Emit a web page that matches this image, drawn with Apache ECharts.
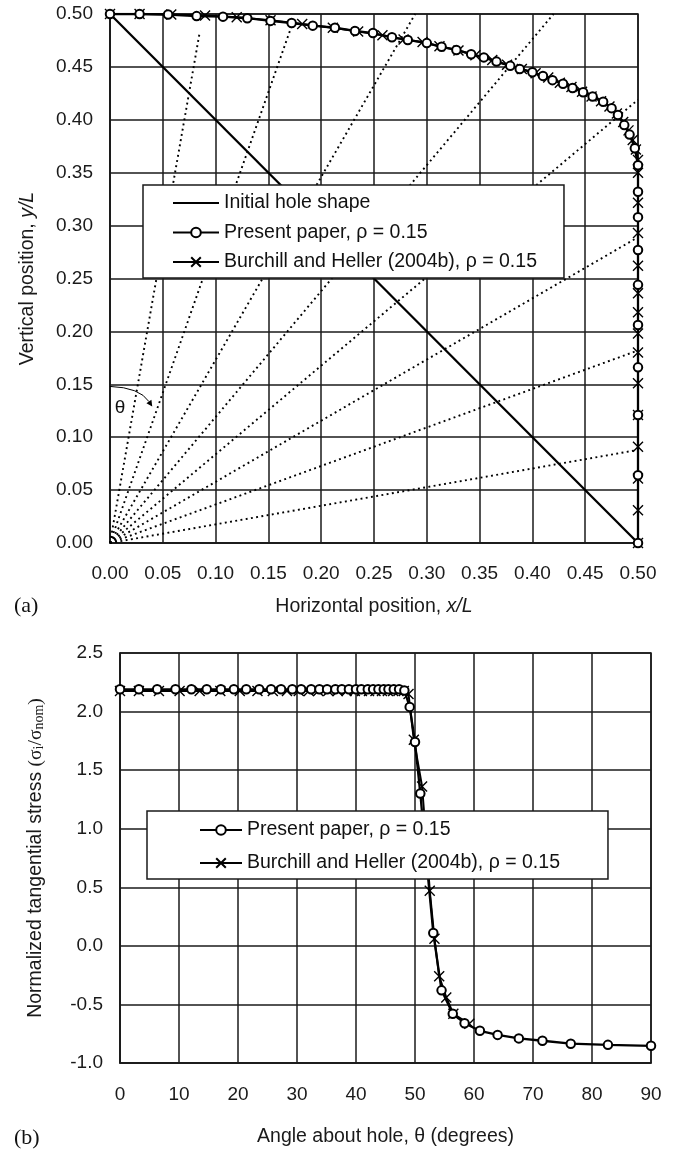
<!DOCTYPE html>
<html><head><meta charset="utf-8">
<script src="https://cdn.jsdelivr.net/npm/echarts@6/dist/echarts.min.js"></script>
<style>html,body{margin:0;padding:0;background:#fff}#c{width:679px;height:1151px}</style>
</head><body><div id="c"></div>
<script>
// ---------- (a) hole shape ----------
const initialX = [0, 0.5];
const initialY = [0.5, 0];
const presentX = [0,0.028,0.055,0.082,0.107,0.13,0.152,0.172,0.192,0.213,0.232,0.249,0.267,0.282,0.300,0.314,0.328,0.342,0.354,0.366,0.379,0.388,0.400,0.410,0.419,0.429,0.438,0.448,0.457,0.467,0.475,0.481,0.487,0.492,0.497,0.5,0.5,0.5,0.5,0.5,0.5,0.5,0.5,0.5,0.5];
const presentY = [0.5,0.5,0.4995,0.498,0.4975,0.496,0.4935,0.4915,0.489,0.487,0.484,0.482,0.478,0.4755,0.4725,0.469,0.466,0.462,0.459,0.455,0.451,0.448,0.445,0.4415,0.4375,0.434,0.430,0.426,0.422,0.417,0.411,0.4045,0.395,0.386,0.373,0.357,0.332,0.308,0.277,0.244,0.206,0.166,0.121,0.064,0];
const burchillX = [0,0.028,0.058,0.09,0.12,0.152,0.182,0.211,0.235,0.258,0.278,0.296,0.312,0.33,0.346,0.362,0.376,0.39,0.403,0.415,0.426,0.437,0.447,0.456,0.465,0.473,0.48,0.486,0.491,0.495,0.498,0.5,0.5,0.5,0.5,0.5,0.5,0.5,0.5,0.5,0.5,0.5,0.5,0.5,0.5,0.5];
const burchillY = [0.5,0.5,0.4995,0.4985,0.497,0.494,0.4905,0.487,0.4835,0.48,0.476,0.4735,0.4695,0.4655,0.461,0.4565,0.452,0.448,0.444,0.44,0.435,0.431,0.4265,0.422,0.4175,0.4125,0.406,0.398,0.39,0.381,0.372,0.362,0.35,0.3215,0.293,0.262,0.236,0.218,0.198,0.18,0.151,0.121,0.091,0.061,0.031,0];
// dotted radial lines (from origin to these end points)
const rayEndX = [0.085,0.173,0.289,0.42,0.5,0.5,0.5,0.5];
const rayEndY = [0.483,0.4915,0.5,0.5,0.419,0.289,0.182,0.088];
// theta annotation (data coords)
const noteStart = [0, 0.148];
const noteCtrl = [0.028, 0.147];
const noteEnd = [0.04, 0.129];
const noteText = [0.0095, 0.128];

// ---------- (b) tangential stress ----------
const thetaPresent = [0,3.2,6.3,9.4,12.1,14.7,17.1,19.3,21.4,23.6,25.6,27.3,29.2,30.7,32.4,33.8,35.1,36.5,37.6,38.8,40.0,40.9,42.0,42.9,43.8,44.7,45.5,46.4,47.3,48.2,49.1,50.0,50.9,51.9,53.1,54.5,56.4,58.4,61.0,64.0,67.6,71.6,76.4,82.7,90];
const stressPresent = [2.19,2.19,2.19,2.19,2.19,2.19,2.19,2.19,2.19,2.19,2.19,2.19,2.19,2.19,2.19,2.19,2.19,2.19,2.19,2.19,2.19,2.19,2.19,2.19,2.19,2.19,2.19,2.19,2.19,2.18,2.04,1.74,1.30,0.75,0.11,-0.38,-0.58,-0.66,-0.725,-0.76,-0.79,-0.81,-0.835,-0.845,-0.853];
const thetaBurchill = [0,3.2,6.6,10.1,13.5,17.0,20.3,23.3,25.9,28.3,30.3,32.0,33.6,35.3,36.9,38.4,39.8,41.0,42.2,43.3,44.4,45.4,46.3,47.2,48.1,48.9,49.8,51.2,51.9,52.5,53.3,54.1,55.3,56.5,59.2];
const stressBurchill = [2.175,2.175,2.175,2.175,2.175,2.175,2.175,2.175,2.175,2.175,2.175,2.175,2.175,2.175,2.175,2.175,2.175,2.175,2.175,2.175,2.175,2.175,2.175,2.175,2.175,2.15,1.76,1.36,0.9,0.47,0.06,-0.26,-0.44,-0.58,-0.665];

const NAME_INIT = 'Initial hole shape';
const NAME_PRES = 'Present paper, ρ = 0.15';
const NAME_BURC = 'Burchill and Heller (2004b), ρ = 0.15';

const FONT = '"Liberation Sans", Arial, sans-serif';
const SERIF = '"Liberation Serif", "Times New Roman", serif';
const INK = '#1a1a1a';
const XSYM = 'path://M0,0L10,10M0,10L10,0';
const FS = 19.5;

const zip = (a, b) => a.map((v, i) => [v, b[i]]);

function axisCommon(extra) {
  return Object.assign({
    type: 'value',
    axisLine: { show: true, onZero: false, lineStyle: { color: INK, width: 1.5 } },
    axisTick: { show: false },
    splitLine: { show: true, lineStyle: { color: INK, width: 1.5 } },
    nameLocation: 'middle',
  }, extra);
}

const chart = echarts.init(document.getElementById('c'), null, { renderer: 'canvas' });

const raySeries = rayEndX.map((ex, i) => ({
  name: 'ray' + i, type: 'line', xAxisIndex: 0, yAxisIndex: 0,
  data: [[0, 0], [ex, rayEndY[i]]], symbol: 'none', silent: true, z: 1,
  lineStyle: { color: '#000', width: 1.9, type: [1.9, 3.4] }, animation: false
}));

const lineStyleMain = { color: '#000', width: 2.3 };
const legendText = { fontSize: FS, fontFamily: FONT, color: '#111', lineHeight: 20 };
const xItem = { color: '#000', borderColor: '#000', borderWidth: 1.4 };
const oItem = { color: '#000', borderColor: '#000', borderWidth: 1.3 };

const option = {
  animation: false,
  backgroundColor: '#fff',
  grid: [
    { left: 110, top: 14, width: 528, height: 529, show: true, borderColor: INK, borderWidth: 1.5 },
    { left: 120, top: 653, width: 531, height: 410, show: true, borderColor: INK, borderWidth: 1.5 }
  ],
  xAxis: [
    axisCommon({ gridIndex: 0, min: 0, max: 0.5, interval: 0.05,
      axisLabel: { margin: 21, fontSize: 19, color: INK, fontFamily: FONT, formatter: v => v.toFixed(2) },
      name: 'Horizontal position, {i|x/L}', nameGap: 54,
      nameTextStyle: { fontSize: FS, color: INK, fontFamily: FONT, rich: { i: { fontSize: FS, fontStyle: 'italic', fontFamily: FONT, color: INK } } } }),
    axisCommon({ gridIndex: 1, min: 0, max: 90, interval: 10,
      axisLabel: { margin: 22, fontSize: 19, color: INK, fontFamily: FONT },
      name: 'Angle about hole, θ (degrees)', nameGap: 64,
      nameTextStyle: { fontSize: FS, color: INK, fontFamily: FONT } })
  ],
  yAxis: [
    axisCommon({ gridIndex: 0, min: 0, max: 0.5, interval: 0.05,
      axisLabel: { margin: 17, fontSize: 19, color: INK, fontFamily: FONT, formatter: v => v.toFixed(2) },
      name: 'Vertical position, {i|y/L}', nameGap: 72,
      nameTextStyle: { fontSize: FS, color: INK, fontFamily: FONT, rich: { i: { fontSize: FS, fontStyle: 'italic', fontFamily: FONT, color: INK } } } }),
    axisCommon({ gridIndex: 1, min: -1, max: 2.5, interval: 0.5,
      axisLabel: { margin: 17, fontSize: 19, color: INK, fontFamily: FONT, formatter: v => v.toFixed(1) },
      name: 'Normalized tangential stress {s|(σ}{sub|i}{s|/σ}{sub|nom}{s|)}', nameGap: 74,
      nameTextStyle: { fontSize: FS, color: INK, fontFamily: FONT,
        rich: { s: { fontSize: FS, fontFamily: SERIF, color: INK },
                sub: { fontSize: 14, fontFamily: SERIF, color: INK, padding: [6, 0, 0, 0] } } } })
  ],
  legend: [
    { z: 20, left: 143, top: 185, orient: 'vertical',
      data: [{ name: NAME_INIT, itemStyle: { opacity: 0 } }, NAME_PRES, NAME_BURC],
      itemWidth: 46, itemHeight: 12, itemGap: 9.5, padding: [8, 27, 6, 29],
      backgroundColor: '#fff', borderColor: INK, borderWidth: 1.5, selectedMode: false,
      textStyle: legendText },
    { z: 20, left: 147, top: 811, orient: 'vertical', data: [NAME_PRES, NAME_BURC],
      itemWidth: 42, itemHeight: 12, itemGap: 13, padding: [9, 48, 6, 52],
      backgroundColor: '#fff', borderColor: INK, borderWidth: 1.5, selectedMode: false,
      textStyle: legendText }
  ],
  series: raySeries.concat([
    { name: NAME_INIT, type: 'line', xAxisIndex: 0, yAxisIndex: 0, data: zip(initialX, initialY),
      symbol: 'none', lineStyle: lineStyleMain, itemStyle: { color: '#000' }, z: 3 },
    { name: NAME_BURC, type: 'line', xAxisIndex: 0, yAxisIndex: 0, data: zip(burchillX, burchillY),
      symbol: XSYM, symbolSize: 10, showAllSymbol: true, lineStyle: { color: '#000', width: 2 },
      itemStyle: xItem, z: 4 },
    { name: NAME_PRES, type: 'line', xAxisIndex: 0, yAxisIndex: 0, data: zip(presentX, presentY),
      symbol: 'emptyCircle', symbolSize: 8.5, showAllSymbol: true, lineStyle: lineStyleMain,
      itemStyle: oItem, z: 5 },
    { name: NAME_BURC, type: 'line', xAxisIndex: 1, yAxisIndex: 1, data: zip(thetaBurchill, stressBurchill),
      symbol: XSYM, symbolSize: 10, showAllSymbol: true, lineStyle: { color: '#000', width: 2 },
      itemStyle: xItem, z: 4 },
    { name: NAME_PRES, type: 'line', xAxisIndex: 1, yAxisIndex: 1, data: zip(thetaPresent, stressPresent),
      symbol: 'emptyCircle', symbolSize: 8.5, showAllSymbol: true, lineStyle: lineStyleMain,
      itemStyle: oItem, z: 5 }
  ])
};
chart.setOption(option);

// annotations positioned through the chart's own scales
const P = d => chart.convertToPixel({ gridIndex: 0 }, d);
const s = P(noteStart), c = P(noteCtrl), e = P(noteEnd), t = P(noteText);
const ang = Math.atan2(e[1] - c[1], e[0] - c[0]);
const ah = 6, aw = 3;
const back = [e[0] - ah * Math.cos(ang), e[1] - ah * Math.sin(ang)];
const arrow = [
  e,
  [back[0] + aw * Math.sin(ang), back[1] - aw * Math.cos(ang)],
  [back[0] - aw * Math.sin(ang), back[1] + aw * Math.cos(ang)]
];
chart.setOption({
  graphic: [
    { type: 'bezierCurve', z: 10, shape: { x1: s[0], y1: s[1], cpx1: c[0], cpy1: c[1], x2: back[0], y2: back[1] },
      style: { stroke: '#000', lineWidth: 1, fill: null } },
    { type: 'polygon', z: 10, shape: { points: arrow }, style: { fill: '#000' } },
    { type: 'text', z: 10, x: t[0], y: t[1], style: { text: 'θ', font: '19px ' + FONT, fill: '#111', align: 'center', verticalAlign: 'middle' } },
    { type: 'text', z: 10, left: 14, top: 595, style: { text: '(a)', font: '22px ' + SERIF, fill: '#111' } },
    { type: 'text', z: 10, left: 14, top: 1127, style: { text: '(b)', font: '22px ' + SERIF, fill: '#111' } }
  ]
});
</script></body></html>
